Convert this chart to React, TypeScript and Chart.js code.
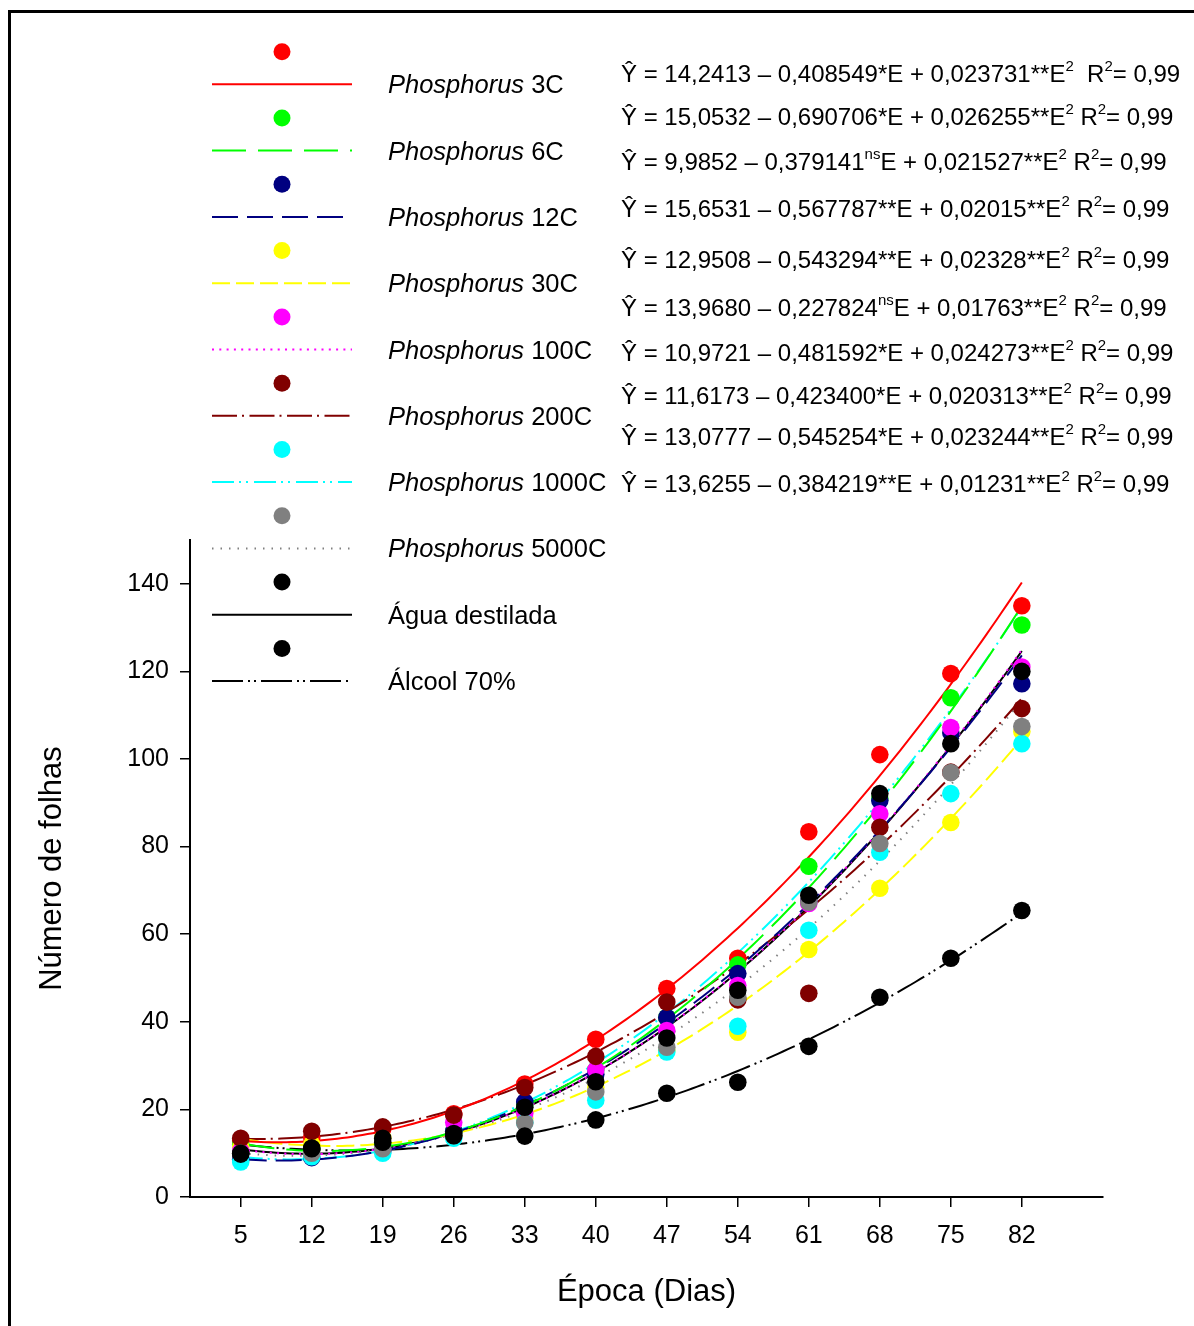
import React, { useEffect, useRef } from "react";
import { Chart, registerables } from "chart.js";

Chart.register(...registerables);

const FONT = "'Liberation Sans', Arial, Helvetica, sans-serif";

// X (days) and Y tick values
const DAYS = [5, 12, 19, 26, 33, 40, 47, 54, 61, 68, 75, 82];
const X_TICKS = [5, 12, 19, 26, 33, 40, 47, 54, 61, 68, 75, 82];
const Y_TICKS = [0, 20, 40, 60, 80, 100, 120, 140];

const X_TITLE = "Época (Dias)";
const Y_TITLE = "Número de folhas";

// Series labels
const LABEL_ITALIC = ["Phosphorus", "Phosphorus", "Phosphorus", "Phosphorus", "Phosphorus", "Phosphorus", "Phosphorus", "Phosphorus", "", ""];
const LABEL_TEXT = [" 3C", " 6C", " 12C", " 30C", " 100C", " 200C", " 1000C", " 5000C", "Água destilada", "Álcool 70%"];

// Observed values (number of leaves)
const P3C = [12.8, 13.5, 15.5, 19.0, 25.8, 36.0, 47.6, 54.5, 83.4, 101.0, 119.5, 135.0];
const P6C = [12.0, 11.0, 12.0, 15.0, 21.0, 29.0, 41.0, 53.0, 75.5, 91.0, 114.0, 130.6];
const P12C = [8.6, 9.0, 10.5, 15.0, 21.7, 28.0, 41.0, 51.0, 67.5, 90.5, 106.0, 117.2];
const P30C = [11.5, 12.0, 13.5, 14.0, 18.0, 25.0, 33.5, 37.6, 56.5, 70.5, 85.5, 106.3];
const P100C = [10.5, 10.0, 11.0, 17.0, 19.1, 29.0, 38.0, 48.3, 67.0, 87.5, 107.2, 121.0];
const P200C = [13.4, 15.0, 16.0, 18.7, 25.0, 32.1, 44.5, 45.0, 46.5, 84.4, 97.0, 111.5];
const P1000C = [8.0, 9.2, 10.0, 13.4, 17.0, 22.1, 33.1, 39.0, 60.9, 78.7, 92.1, 103.5];
const P5000C = [10.0, 10.0, 11.0, 14.0, 16.9, 24.0, 34.2, 45.6, 67.3, 80.7, 96.9, 107.4];
const AGUA = [9.8, 11.2, 13.4, 14.5, 20.5, 26.3, 36.3, 47.2, 68.9, 92.1, 103.5, 120.0];
const ALCOOL = [10.0, 11.0, 12.5, 14.0, 13.9, 17.6, 23.7, 26.2, 34.4, 45.6, 54.5, 65.4];
const SERIES = [P3C, P6C, P12C, P30C, P100C, P200C, P1000C, P5000C, AGUA, ALCOOL];

// Regression equations shown on the chart: Ŷ = A – B·E + C·E²
const EQ_A = ["14,2413", "15,0532", "9,9852", "15,6531", "12,9508", "13,9680", "10,9721", "11,6173", "13,0777", "13,6255"];
const EQ_B = ["0,408549", "0,690706", "0,379141", "0,567787", "0,543294", "0,227824", "0,481592", "0,423400", "0,545254", "0,384219"];
const EQ_B_SIG = ["*", "*", "ns", "**", "**", "ns", "*", "*", "*", "**"];
const EQ_C = ["0,023731", "0,026255", "0,021527", "0,02015", "0,02328", "0,01763", "0,024273", "0,020313", "0,023244", "0,01231"];
const EQ_C_SIG = ["**", "**", "**", "**", "**", "**", "**", "**", "**", "**"];
const EQ_R2 = ["0,99", "0,99", "0,99", "0,99", "0,99", "0,99", "0,99", "0,99", "0,99", "0,99"];

const COLORS = ["#ff0000", "#00ff00", "#000080", "#ffff00", "#ff00ff", "#800000", "#00ffff", "#808080", "#000000", "#000000"];
const DASHES: number[][] = [[], [34, 12], [26, 9], [18, 6], [2, 5.3], [25, 5, 2, 5.5], [22, 5, 2, 5, 2, 6], [1.5, 7], [], [31, 5, 2, 4, 2, 5]];

const num = (s: string) => parseFloat(s.replace(",", "."));

function curveData(i: number) {
  const a = num(EQ_A[i]);
  const b = num(EQ_B[i]);
  const c = num(EQ_C[i]);
  const pts: { x: number; y: number }[] = [];
  for (let e = DAYS[0]; e <= DAYS[DAYS.length - 1] + 1e-9; e += 0.5) {
    pts.push({ x: e, y: a - b * e + c * e * e });
  }
  return pts;
}

type Seg = { t: string; sup?: boolean; it?: boolean };

function drawRich(ctx: CanvasRenderingContext2D, segs: Seg[], x: number, y: number, size: number) {
  let cx = x;
  for (const s of segs) {
    const fs = s.sup ? Math.round(size * 0.62) : size;
    ctx.font = `${s.it ? "italic " : ""}${fs}px ${FONT}`;
    ctx.fillText(s.t, cx, s.sup ? y - size * 0.42 : y);
    cx += ctx.measureText(s.t).width;
  }
  return cx;
}

const decorPlugin = {
  id: "decor",
  afterDraw(chart: any) {
    const ctx: CanvasRenderingContext2D = chart.ctx;
    const area = chart.chartArea;
    ctx.save();
    // frame
    ctx.strokeStyle = "#000";
    ctx.lineWidth = 3;
    ctx.setLineDash([]);
    ctx.strokeRect(9.5, 11.5, 1400, 1500);

    ctx.fillStyle = "#000";
    ctx.textBaseline = "alphabetic";
    // axis titles
    ctx.font = `31px ${FONT}`;
    ctx.textAlign = "center";
    ctx.fillText(X_TITLE, (area.left + area.right) / 2, 1301);
    ctx.save();
    ctx.translate(61, (area.top + area.bottom) / 2);
    ctx.rotate(-Math.PI / 2);
    ctx.fillText(Y_TITLE, 0, 0);
    ctx.restore();

    // legend
    ctx.textAlign = "left";
    for (let i = 0; i < SERIES.length; i++) {
      const my = 51.7 + 66.3 * i;
      const ly = 84.3 + 66.3 * i;
      ctx.fillStyle = COLORS[i];
      ctx.beginPath();
      ctx.arc(282, my, 8.5, 0, Math.PI * 2);
      ctx.fill();
      ctx.strokeStyle = COLORS[i];
      ctx.lineWidth = 2;
      ctx.setLineDash(DASHES[i]);
      ctx.beginPath();
      ctx.moveTo(212, ly);
      ctx.lineTo(352, ly);
      ctx.stroke();
      ctx.setLineDash([]);
      ctx.fillStyle = "#000";
      const segs: Seg[] = [];
      if (LABEL_ITALIC[i]) segs.push({ t: LABEL_ITALIC[i], it: true });
      segs.push({ t: LABEL_TEXT[i] });
      drawRich(ctx, segs, 388, ly + 9, 25.5);
    }

    // equations
    const eqY = [73, 116, 161, 208, 259, 307, 352, 395, 436, 483];
    for (let i = 0; i < EQ_A.length; i++) {
      const segs: Seg[] = [];
      segs.push({ t: `Ŷ = ${EQ_A[i]} – ${EQ_B[i]}` });
      if (EQ_B_SIG[i] === "ns") segs.push({ t: "ns", sup: true });
      else segs.push({ t: EQ_B_SIG[i] });
      segs.push({ t: `E + ${EQ_C[i]}${EQ_C_SIG[i]}E` });
      segs.push({ t: "2", sup: true });
      segs.push({ t: i === 0 ? "  R" : " R" });
      segs.push({ t: "2", sup: true });
      segs.push({ t: `= ${EQ_R2[i]}` });
      drawRich(ctx, segs, 621, eqY[i] + 8.5, 24);
    }
    ctx.restore();
  },
};

export default function App() {
  const ref = useRef<HTMLCanvasElement | null>(null);

  useEffect(() => {
    if (!ref.current) return;
    const datasets: any[] = [];
    SERIES.forEach((vals, i) => {
      datasets.push({
        label: `${LABEL_ITALIC[i]}${LABEL_TEXT[i]} fit`,
        data: curveData(i),
        showLine: true,
        borderColor: COLORS[i],
        borderWidth: 2,
        borderDash: DASHES[i],
        pointRadius: 0,
        fill: false,
        order: 50 + i,
      });
    });
    SERIES.forEach((vals, i) => {
      datasets.push({
        label: `${LABEL_ITALIC[i]}${LABEL_TEXT[i]}`,
        data: DAYS.map((d, k) => ({ x: d, y: vals[k] })),
        showLine: false,
        pointRadius: 8.8,
        pointBackgroundColor: COLORS[i],
        pointBorderWidth: 0,
        pointBorderColor: COLORS[i],
        order: 20 - i,
      });
    });

    const chart = new Chart(ref.current, {
      type: "scatter",
      data: { datasets },
      options: {
        animation: false,
        responsive: false,
        events: [],
        layout: { padding: { left: 0, top: 540, right: 91, bottom: 0 } },
        plugins: { legend: { display: false }, tooltip: { enabled: false } },
        scales: {
          x: {
            type: "linear",
            min: 0,
            max: 90,
            afterBuildTicks: (s: any) => {
              s.ticks = X_TICKS.map((v) => ({ value: v }));
            },
            afterFit: (s: any) => {
              s.height = 129;
            },
            grid: { display: true, drawOnChartArea: false, drawTicks: true, tickLength: 10, color: "#000", lineWidth: 1.5 },
            border: { display: true, color: "#000", width: 2 },
            ticks: { color: "#000", font: { family: FONT, size: 25 }, padding: 14, maxRotation: 0, autoSkip: false },
          },
          y: {
            type: "linear",
            min: 0,
            max: 150,
            afterBuildTicks: (s: any) => {
              s.ticks = Y_TICKS.map((v) => ({ value: v }));
            },
            afterFit: (s: any) => {
              s.width = 190;
            },
            grid: { display: true, drawOnChartArea: false, drawTicks: true, tickLength: 10, color: "#000", lineWidth: 1.5 },
            border: { display: true, color: "#000", width: 2 },
            ticks: { color: "#000", font: { family: FONT, size: 25 }, padding: 11, autoSkip: false },
          },
        },
      },
      plugins: [decorPlugin],
    } as any);
    return () => chart.destroy();
  }, []);

  return (
    <div style={{ position: "absolute", left: 0, top: 0, width: 1194, height: 1326, background: "#fff" }}>
      <canvas ref={ref} width={1194} height={1326} style={{ display: "block", width: 1194, height: 1326 }} />
    </div>
  );
}
